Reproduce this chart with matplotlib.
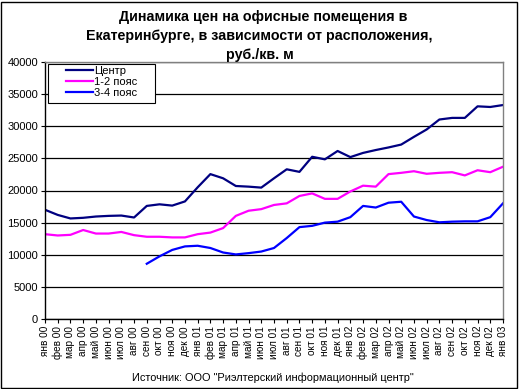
import matplotlib
matplotlib.use("Agg")
import matplotlib.pyplot as plt
from matplotlib.patches import Rectangle

plt.rcParams['font.family'] = ['Liberation Sans', 'DejaVu Sans']

months = ["янв", "фев", "мар", "апр", "май", "июн", "июл", "авг", "сен", "окт", "ноя", "дек"]
tick_labels = [f"{months[i % 12]} {i // 12:02d}" for i in range(36)] + ["янв 03"]

center = [17000, 16200, 15650, 15750, 15950, 16050, 16100, 15800, 17600, 17850, 17650, 18300,
          20500, 22550, 21900, 20700, 20600, 20450, 21900, 23300, 22900, 25250, 24850, 26150,
          25200, 25850, 26300, 26700, 27150, 28350, 29500, 31050, 31300, 31300, 33100, 33000, 33300]
belt12 = [13200, 13000, 13100, 13850, 13300, 13300, 13550, 13050, 12800, 12800, 12700, 12700,
          13200, 13450, 14150, 16050, 16850, 17100, 17750, 18000, 19150, 19550, 18700, 18700,
          19850, 20750, 20600, 22550, 22750, 23000, 22600, 22750, 22850, 22350, 23150, 22850, 23700]
belt34 = [None] * 8 + [8600, 9750, 10750, 11300, 11400, 11050, 10350, 10050, 10250, 10500, 11050, 12600,
          14300, 14500, 15000, 15150, 15850, 17600, 17350, 18100, 18250, 15950, 15400, 15050,
          15150, 15200, 15200, 15850, 18000]
series_names = ["Центр", "1-2 пояс", "3-4 пояс"]
colors = ["#000080", "#FF00FF", "#0000FF"]

W, H = 519, 389
fig = plt.figure(figsize=(W / 100, H / 100), dpi=100)
fig.patches.append(Rectangle((1 / W, 1 / H), 1 - 3 / W, 1 - 3 / H, transform=fig.transFigure,
                             fill=False, edgecolor="black", linewidth=1))

AX_L, AX_R, AX_T, AX_B = 45, 503, 62, 319
ax = fig.add_axes([AX_L / W, 1 - AX_B / H, (AX_R - AX_L) / W, (AX_B - AX_T) / H])
x = list(range(len(tick_labels)))
for data, name, c in zip([center, belt12, belt34], series_names, colors):
    xs = [xi for xi, v in zip(x, data) if v is not None]
    ys = [v for v in data if v is not None]
    ax.plot(xs, ys, color=c, linewidth=1.6, label=name, solid_joinstyle="round")

ax.set_xlim(0, 36)
ax.set_ylim(0, 40000)
ax.set_yticks(range(0, 40001, 5000))
ax.set_yticklabels([str(v) for v in range(0, 40001, 5000)], fontsize=8)
ax.set_xticks(x)
ax.set_xticklabels(tick_labels, rotation=90, fontsize=7.2)
ax.tick_params(axis="both", length=3, width=0.8, color="black", pad=2)
ax.grid(axis="y", color="black", linewidth=0.9)
ax.set_axisbelow(True)
for s in ["left", "bottom"]:
    ax.spines[s].set_color("black")
    ax.spines[s].set_linewidth(1)
for s in ["top", "right"]:
    ax.spines[s].set_color("#808080")
    ax.spines[s].set_linewidth(1)

aw, ah = AX_R - AX_L, AX_B - AX_T
# legend frame (Excel-style, with wide inner padding)
ax.add_patch(Rectangle(((47.7 - AX_L) / aw, (AX_B - 103) / ah), (155 - 47.7) / aw, (103 - 64.3) / ah,
                       transform=ax.transAxes, facecolor="white", edgecolor="black",
                       linewidth=0.8, zorder=4))
leg = ax.legend(loc="upper left", bbox_to_anchor=((66 - AX_L) / aw, (AX_B - 65.5) / ah),
                fontsize=8, frameon=False, handlelength=2.4, handletextpad=0.12,
                borderpad=0, labelspacing=0.12, borderaxespad=0)
leg.set_zorder(5)

fig.text(0.507, 1 - 17 / H, "Динамика цен на офисные помещения в", ha="center", va="center",
         fontsize=10.3, fontweight="bold")
fig.text(0.5, 1 - 36 / H, "Екатеринбурге, в зависимости от расположения,", ha="center", va="center",
         fontsize=10.3, fontweight="bold")
fig.text(0.5, 1 - 55 / H, "руб./кв. м", ha="center", va="center", fontsize=10.3, fontweight="bold")
fig.text(273 / W, 1 - 378 / H, "Источник: ООО \"Риэлтерский информационный центр\"", ha="center",
         va="center", fontsize=7.9)

fig.savefig("out.png", dpi=100)
